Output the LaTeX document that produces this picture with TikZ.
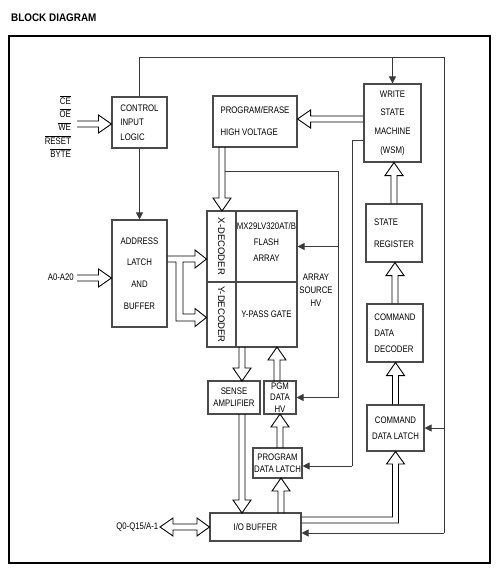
\documentclass[tikz,border=0pt]{standalone}
\usepackage{fontspec}
\setmainfont{Liberation Sans}[FakeStretch=0.82]
\newfontfamily\rotfont{Liberation Sans}
\newfontfamily\titlefont{Liberation Sans}[FakeStretch=0.9]
\usepackage{graphicx}
\usetikzlibrary{calc,arrows.meta}
\newcommand{\ovl}[1]{$\overline{\hbox{#1}}$}
\def\fsw{3pt}\def\fhw{9pt}\def\fhl{13pt}
\newcommand{\fatarrow}[2]{%
  \path #1 coordinate (fA) #2 coordinate (fB);
  \path ($(fB)!\fhl!(fA)$) coordinate (fC);
  \draw[fat] ($(fA)!\fsw!90:(fB)$) -- ($(fC)!\fsw!90:(fB)$) -- ($(fC)!\fhw!90:(fB)$) -- (fB)
    -- ($(fC)!\fhw!-90:(fB)$) -- ($(fC)!\fsw!-90:(fB)$) -- ($(fA)!\fsw!-90:(fB)$);}
\definecolor{boxc}{HTML}{4A4A4A}
\definecolor{connc}{HTML}{3A3A3A}
\tikzset{
  box/.style={draw=boxc, line width=1.1pt, inner sep=0pt, font=\fontsize{9.5}{12}\selectfont},
  lsp/.style={font=\fontsize{9.5}{#1}\selectfont},
  lbl/.style={inner sep=0pt, font=\fontsize{9.5}{12}\selectfont},
  fat/.style={draw=black, line width=0.9pt, line join=miter},
  conn/.style={draw=connc, line width=1pt},
  arr/.style={-{Triangle[length=7pt,width=7pt]}},
}
\begin{document}
\begin{tikzpicture}[x=1pt,y=-1pt]
\useasboundingbox (0,0) rectangle (500,575);
\node[anchor=west, inner sep=0pt, font=\titlefont\fontsize{11}{13}\selectfont\bfseries] (title) at (11,18) {BLOCK DIAGRAM};
\draw[line width=1.2pt] (9,36) rectangle (490,563);

% boxes
\node[box, minimum width=55pt, minimum height=51pt, align=left, lsp=14.5] (ctrl) at (139.5,122.5) {CONTROL\\INPUT\\LOGIC};
\node[box, minimum width=84pt, minimum height=51pt, align=left, lsp=22] (pe) at (255,121.5) {PROGRAM/ERASE\\HIGH VOLTAGE};
\node[box, minimum width=57pt, minimum height=78pt, align=center, lsp=18.7] (wsm) at (392.5,123) {WRITE\\STATE\\MACHINE\\(WSM)};
\node[box, minimum width=55pt, minimum height=107pt, align=center, lsp=21.7] (addr) at (139.5,273.5) {ADDRESS\\LATCH\\AND\\BUFFER};
\node[box, minimum width=29pt, minimum height=71pt] (xdec) at (221.5,246.5) {\rotatebox{-90}{\rotfont X-DECODER}};
\node[box, minimum width=29pt, minimum height=65pt] (ydec) at (221.5,314.5) {\rotatebox{-90}{\rotfont Y-DECODER}};
\node[box, minimum width=61pt, minimum height=71pt] (farr) at (266.5,246.5) {};
\node[lbl, align=center, lsp=16] (farrtxt) at (266.5,242) {MX29LV320AT/B\\FLASH\\ARRAY};
\node[box, minimum width=61pt, minimum height=65pt] (ypass) at (266.5,314.5) {Y-PASS GATE};
\node[lbl, align=center, lsp=13] (ash) at (316,290) {ARRAY\\SOURCE\\HV};
\node[box, minimum width=56pt, minimum height=58pt, align=left, lsp=22] (sr) at (394,233) {STATE\\REGISTER};
\node[box, minimum width=56pt, minimum height=58pt, align=left, lsp=16] (cdd) at (395,333) {COMMAND\\DATA\\DECODER};
\node[box, minimum width=57pt, minimum height=46pt, align=center, lsp=16] (cdl) at (395.5,428) {COMMAND\\DATA LATCH};
\node[box, minimum width=52pt, minimum height=33pt, align=center, lsp=12] (sense) at (234,397.5) {SENSE\\AMPLIFIER};
\node[box, minimum width=32pt, minimum height=33pt, align=center, lsp=11.5] (pgm) at (280,397.5) {PGM\\DATA\\HV};
\node[box, minimum width=49pt, minimum height=30pt, align=center, lsp=11.5] (pdl) at (277.5,463) {PROGRAM\\DATA LATCH};
\node[box, minimum width=91pt, minimum height=28pt] (io) at (255.5,527) {I/O BUFFER};

% external labels
\node[lbl, anchor=east, align=right, lsp=13.25] (sig) at (71,126.5) {\ovl{CE}\\\ovl{OE}\\\ovl{WE}\\\ovl{RESET}\\\ovl{BYTE}};
\node[lbl, anchor=east] (alab) at (74,277.5) {A0-A20};
\node[lbl, anchor=east] (qlab) at (158.5,527) {Q0-Q15/A-1};

% thin connectors
\coordinate (tr) at (444,58);
\coordinate (br) at (444,533);
\draw[conn] (ctrl.north) |- (tr) -- (br);
\draw[conn,arr] (br) -- (io.east |- br);
\draw[conn,arr] (wsm.north |- tr) -- (wsm.north);
\draw[conn,arr] (cdl.east -| tr) -- (cdl.east);

\coordinate (tap) at (225,171);
\coordinate (vr) at (338,171);
\draw[conn] (tap) -- (vr) -- (vr |- pgm.east);
\draw[conn,arr] (vr |- pgm.east) -- (pgm.east);
\draw[conn,arr] (farr.east -| vr) -- (farr.east);

\coordinate (wl) at (352,140);
\draw[conn] (wsm.west |- wl) -- (wl) -- (wl |- 0,466);
\draw[conn,arr] (wl |- 0,466) -- (pdl.east |- 0,466);

\draw[conn,arr] (ctrl.south) -- (addr.north);

% hollow arrows
\fatarrow{(77,124)}{(ctrl.west |- 0,124)}
\fatarrow{(77,278)}{(addr.west |- 0,278)}
\fatarrow{(222,147)}{(222,211)}
\fatarrow{(wsm.west |- 0,119)}{(pe.east |- 0,119)}
\fatarrow{(sr.north)}{(sr.north |- wsm.south)}
\fatarrow{(cdd.north)}{(cdd.north |- sr.south)}
\fatarrow{(cdl.north)}{(cdl.north |- cdd.south)}
\fatarrow{(242,347)}{(242,381)}
\fatarrow{(277,381)}{(277,347)}
\fatarrow{(280,448)}{(280,414)}
\fatarrow{(242,414)}{(242,513)}
\fatarrow{(281,513)}{(281,478)}

% branched address arrow
\draw[fat] (addr.east |- 0,256) -- (195,256) -- (195,250) -- (xdec.west |- 0,259) -- (195,268) -- (195,262) -- (183,262) -- (183,314) -- (195,314) -- (195,308.5) -- (ydec.west |- 0,317.5) -- (195,326.5) -- (195,321) -- (176,321) -- (176,262) -- (addr.east |- 0,262);

% L-shaped I/O to command data latch
\draw[fat] (io.east |- 0,517) -- (392.5,517) -- (392.5,464) -- (386.5,464) -- (cdl.south) -- (404.5,464) -- (398.5,464) -- (398.5,523) -- (io.east |- 0,523);

% double-headed data arrow
\coordinate (qa) at (160,527);
\draw[fat] (qa) -- (173,518) -- (173,524) -- (197,524) -- (197,518) -- (io.west) -- (197,536) -- (197,530) -- (173,530) -- (173,536) -- cycle;
\end{tikzpicture}
\end{document}
